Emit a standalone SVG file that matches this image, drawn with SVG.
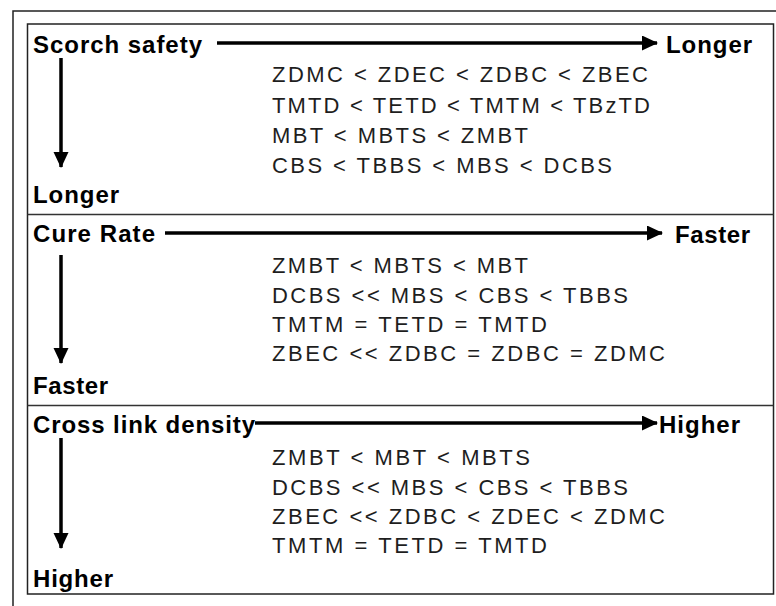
<svg xmlns="http://www.w3.org/2000/svg" width="776" height="606" viewBox="0 0 776 606">
<style>
.frame{fill:none;stroke:#222;stroke-width:1.5}
.div{stroke:#333;stroke-width:1.5}
.lbl{font-family:"Liberation Sans",Arial,sans-serif;font-weight:bold;font-size:24px;fill:#000}
.rel{font-family:"Liberation Sans",Arial,sans-serif;font-size:22px;fill:#1e1e1e}
.arr{stroke:#000;stroke-width:3.5;fill:none}
</style>
<defs>
<marker id="ah" markerUnits="userSpaceOnUse" markerWidth="17" markerHeight="16" refX="15" refY="7.5" orient="auto">
<path d="M0,0 L16,7.5 L0,15 Z" fill="#000"/>
</marker>
</defs>
<rect width="776" height="606" fill="#fff"/>
<path class="frame" d="M13,606 V11 H776"/>
<rect class="frame" x="27.5" y="24" width="746" height="570"/>
<line class="div" x1="27.5" y1="214.5" x2="773.5" y2="214.5"/>
<line class="div" x1="27.5" y1="405.5" x2="773.5" y2="405.5"/>

<g id="scorch">
<text class="lbl" x="33" y="53" textLength="169" lengthAdjust="spacing">Scorch safety</text>
<text class="lbl" x="666" y="53" textLength="86" lengthAdjust="spacing">Longer</text>
<text class="lbl" x="33" y="203" textLength="86" lengthAdjust="spacing">Longer</text>
<text class="rel" x="272" y="82" textLength="376" lengthAdjust="spacing">ZDMC &lt; ZDEC &lt; ZDBC &lt; ZBEC</text>
<text class="rel" x="272" y="113" textLength="378" lengthAdjust="spacing">TMTD &lt; TETD &lt; TMTM &lt; TBzTD</text>
<text class="rel" x="272" y="143" textLength="256" lengthAdjust="spacing">MBT &lt; MBTS &lt; ZMBT</text>
<text class="rel" x="272" y="173" textLength="340" lengthAdjust="spacing">CBS &lt; TBBS &lt; MBS &lt; DCBS</text>
</g>

<g id="cure">
<text class="lbl" x="33" y="242" textLength="122" lengthAdjust="spacing">Cure Rate</text>
<text class="lbl" x="675" y="243" textLength="75" lengthAdjust="spacing">Faster</text>
<text class="lbl" x="33" y="394" textLength="75" lengthAdjust="spacing">Faster</text>
<text class="rel" x="272" y="273" textLength="256" lengthAdjust="spacing">ZMBT &lt; MBTS &lt; MBT</text>
<text class="rel" x="272" y="303" textLength="356" lengthAdjust="spacing">DCBS &lt;&lt; MBS &lt; CBS &lt; TBBS</text>
<text class="rel" x="272" y="332" textLength="275" lengthAdjust="spacing">TMTM = TETD = TMTD</text>
<text class="rel" x="272" y="361" textLength="393" lengthAdjust="spacing">ZBEC &lt;&lt; ZDBC = ZDBC = ZDMC</text>
</g>

<g id="crosslink">
<text class="lbl" x="33" y="433" textLength="222" lengthAdjust="spacing">Cross link density</text>
<text class="lbl" x="659" y="433" textLength="81" lengthAdjust="spacing">Higher</text>
<text class="lbl" x="33" y="587" textLength="80" lengthAdjust="spacing">Higher</text>
<text class="rel" x="272" y="465" textLength="258" lengthAdjust="spacing">ZMBT &lt; MBT &lt; MBTS</text>
<text class="rel" x="272" y="495" textLength="356" lengthAdjust="spacing">DCBS &lt;&lt; MBS &lt; CBS &lt; TBBS</text>
<text class="rel" x="272" y="524" textLength="393" lengthAdjust="spacing">ZBEC &lt;&lt; ZDBC &lt; ZDEC &lt; ZDMC</text>
<text class="rel" x="272" y="553" textLength="275" lengthAdjust="spacing">TMTM = TETD = TMTD</text>
</g>

<g id="connectors">
<line class="arr" x1="217" y1="43" x2="657" y2="43" marker-end="url(#ah)"/>
<line class="arr" x1="61" y1="58" x2="61" y2="167" marker-end="url(#ah)"/>
<line class="arr" x1="165" y1="233" x2="662" y2="233" marker-end="url(#ah)"/>
<line class="arr" x1="61" y1="255" x2="61" y2="363" marker-end="url(#ah)"/>
<line class="arr" x1="255" y1="423" x2="657" y2="423" marker-end="url(#ah)"/>
<line class="arr" x1="61" y1="438" x2="61" y2="548" marker-end="url(#ah)"/>
</g>
</svg>
